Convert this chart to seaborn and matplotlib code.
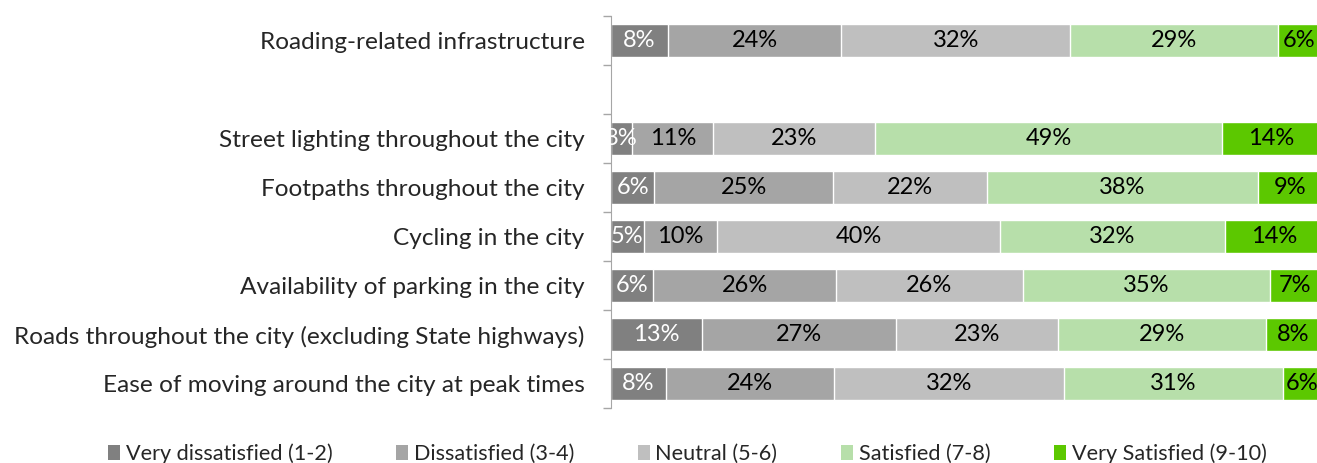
import numpy as np
import pandas as pd
import matplotlib
matplotlib.use("Agg")
import matplotlib.pyplot as plt
from matplotlib.patches import Patch
import seaborn as sns

sns.set_style("white")
plt.rcParams['font.family'] = ['Lato', 'DejaVu Sans']

# 数据
items = ["Roading-related infrastructure",
         "Street lighting throughout the city",
         "Footpaths throughout the city",
         "Cycling in the city",
         "Availability of parking in the city",
         "Roads throughout the city (excluding State highways)",
         "Ease of moving around the city at peak times"]
gap = " "
order = [items[0], gap] + items[1:]

levels = ["Very dissatisfied (1-2)", "Dissatisfied (3-4)", "Neutral (5-6)",
          "Satisfied (7-8)", "Very Satisfied (9-10)"]
very_dis = [8.0, 3.0, 6.1, 4.6, 5.9, 12.8, 7.7]
dis = [24.4, 11.4, 25.2, 10.3, 25.8, 27.4, 23.7]
neutral = [32.3, 22.8, 21.6, 39.9, 26.3, 22.8, 32.4]
sat = [29.3, 48.9, 38.2, 31.7, 34.8, 29.3, 30.8]
very_sat = [5.9, 13.9, 9.0, 13.7, 7.2, 7.6, 5.6]

colors = ["#808080", "#A5A5A5", "#BFBFBF", "#B7DFAA", "#5CC800"]
text_colors = ["white", "black", "black", "black", "black"]

series = [very_dis, dis, neutral, sat, very_sat]
df = pd.DataFrame({"item": items})
for i, s in enumerate(series):
    df[f"cum{i}"] = np.sum(series[:i + 1], axis=0)

fig = plt.figure(figsize=(13.17, 4.63), dpi=100)
ax = fig.add_axes([0.464, 0.1188, 0.539, 0.8466])

# 堆叠条形图：从累计值最大的开始画
for i in range(4, -1, -1):
    sns.barplot(data=df, x=f"cum{i}", y="item", order=order, orient="h",
                color=colors[i], width=0.67, edgecolor="white", linewidth=1,
                errorbar=None, saturation=1, ax=ax)

# 百分比标签
for row, name in enumerate(items):
    pos = order.index(name)
    left = 0
    for i, s in enumerate(series):
        v = s[row]
        ax.text(left + v / 2, pos, f"{v:.0f}%", ha="center", va="center",
                fontsize=17, color=text_colors[i])
        left += v

ax.set_xlim(0, 100)
ax.set_ylim(len(order) - 0.5, -0.5)
ax.set_xlabel("")
ax.set_ylabel("")
ax.set_xticks([])
ax.set_yticks(np.arange(-0.5, len(order), 1), minor=True)
ax.tick_params(axis="y", which="major", length=0, pad=19, labelsize=17.6)
ax.tick_params(axis="y", which="minor", length=6, color="#A6A6A6", width=1, left=True)
for side in ["top", "right", "bottom"]:
    ax.spines[side].set_visible(False)
ax.spines["left"].set_color("#A6A6A6")

handles = [Patch(facecolor=c, edgecolor="none") for c in colors]
fig.legend(handles, levels, loc="center", bbox_to_anchor=(0.522, 0.02),
           ncol=5, frameon=False, fontsize=15.6, handlelength=0.55,
           handleheight=0.75, handletextpad=0.25, columnspacing=2.95)

fig.savefig("out.png", dpi=100)
